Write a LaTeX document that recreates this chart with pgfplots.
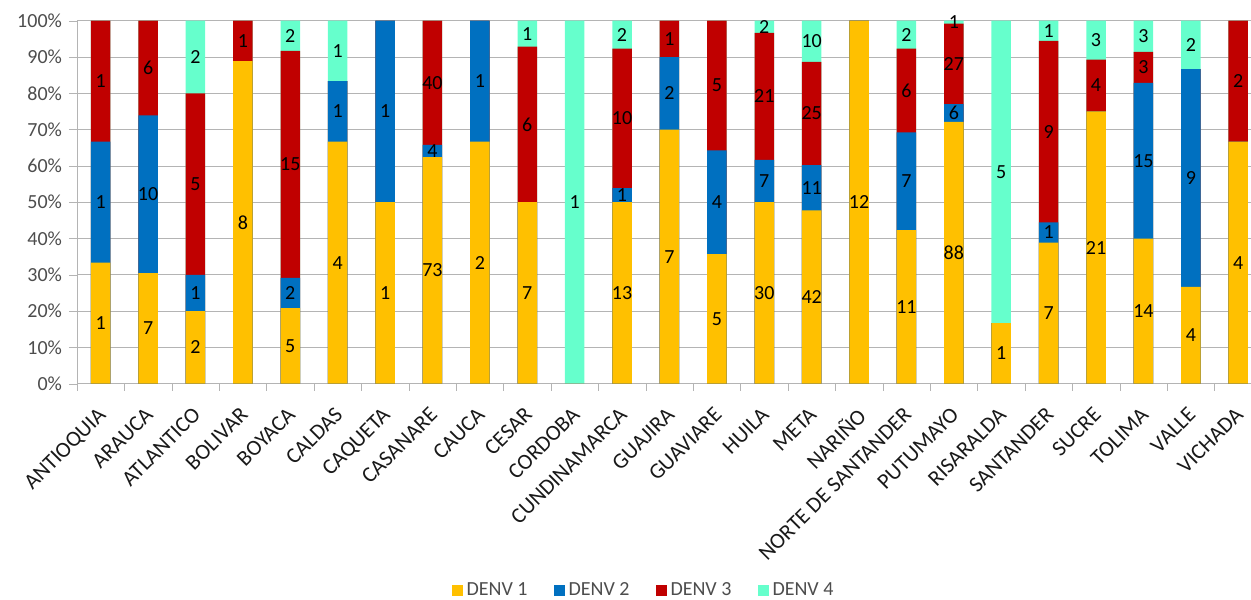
\documentclass[border=0pt]{standalone}
\usepackage{fontspec}
\setmainfont{Carlito}
\usepackage{pgfplots}
\usepackage{pgfplotstable}
\pgfplotsset{compat=1.18}

\definecolor{denvA}{HTML}{FFC000}
\definecolor{denvB}{HTML}{0070C0}
\definecolor{denvC}{HTML}{C00000}
\definecolor{denvD}{HTML}{66FFCC}
\definecolor{gridgray}{HTML}{B4B4B4}
\definecolor{txtgray}{HTML}{4D4D4D}

% casos por serotipo (DENV 1..4) en cada departamento
\pgfplotstableread{
x c1 c2 c3 c4
0 1 1 1 0
1 7 10 6 0
2 2 1 5 2
3 8 0 1 0
4 5 2 15 2
5 4 1 0 1
6 1 1 0 0
7 73 4 40 0
8 2 1 0 0
9 7 0 6 1
10 0 0 0 1
11 13 1 10 2
12 7 2 1 0
13 5 4 5 0
14 30 7 21 2
15 42 11 25 10
16 12 0 0 0
17 11 7 6 2
18 88 6 27 1
19 1 0 0 5
20 7 1 9 1
21 21 0 4 3
22 14 15 3 3
23 4 9 0 2
24 4 0 2 0
}\casos

\newcommand{\tot}{(\thisrow{c1}+\thisrow{c2}+\thisrow{c3}+\thisrow{c4})}

\pgfplotsset{
  barra/.style={ybar, bar width=9.75pt, bar shift=0pt, draw=none, fill=#1, forget plot},
  etiq/.style={draw=none, mark=none, forget plot, point meta=explicit,
    nodes near coords={\pgfmathfloatifflags{\pgfplotspointmeta}{0}{}{\pgfmathprintnumber{\pgfplotspointmeta}}},
    every node near coord/.append style={anchor=center, text=black, font=\normalsize, inner sep=0pt}},
}

\begin{document}
\begin{tikzpicture}
\useasboundingbox (-38.5pt,-107.85pt) rectangle (587pt,191.85pt);
\begin{axis}[
  at={(0pt,0pt)}, anchor=south west,
  scale only axis, width=587pt, height=181.5pt,
  xmin=-0.5, xmax=24.27, ymin=0, ymax=100,
  axis x line*=bottom, axis y line*=left,
  axis line style={gridgray, -},
  tick align=outside,
  xtick={0,...,24},
  xticklabels={ANTIOQUIA, ARAUCA, ATLANTICO, BOLIVAR, BOYACA, CALDAS, CAQUETA, CASANARE, CAUCA, CESAR, CORDOBA, CUNDINAMARCA, GUAJIRA, GUAVIARE, HUILA, META, NARIÑO, NORTE DE SANTANDER, PUTUMAYO, RISARALDA, SANTANDER, SUCRE, TOLIMA, VALLE, VICHADA},
  major x tick style={draw=none},
  minor xtick={-0.5,0.5,...,23.5},
  minor x tick style={gridgray},
  minor tick length=3.5pt,
  major tick length=4pt,
  ytick={0,10,...,100},
  y tick style={gridgray},
  ymajorgrids, grid style={gridgray},
  yticklabel={\pgfmathprintnumber{\tick}\%},
  /pgf/number format/assume math mode=true,
  yticklabel style={text=txtgray, font=\normalsize},
  xticklabel style={xshift=-2pt, yshift=-7pt, rotate=45, anchor=north east, text=black!90, font=\fontsize{11}{13}\selectfont, inner sep=0pt},
  legend columns=4,
  legend style={at={(0.4834,-0.5694)}, anchor=center, draw=none, font=\normalsize, text=txtgray,
    /tikz/every even column/.append style={column sep=11pt}},
  legend image code/.code={\fill[#1] (0pt,-2.75pt) rectangle (5.5pt,2.75pt);},
]
\addlegendimage{fill=denvA, draw=none}\addlegendentry{DENV 1}
\addlegendimage{fill=denvB, draw=none}\addlegendentry{DENV 2}
\addlegendimage{fill=denvC, draw=none}\addlegendentry{DENV 3}
\addlegendimage{fill=denvD, draw=none}\addlegendentry{DENV 4}

% barras apiladas al 100%, dibujadas de arriba hacia abajo
\addplot[barra=denvD] table[x=x, y expr={100*(\thisrow{c1}+\thisrow{c2}+\thisrow{c3}+\thisrow{c4})/\tot}] {\casos};
\addplot[barra=denvC] table[x=x, y expr={100*(\thisrow{c1}+\thisrow{c2}+\thisrow{c3})/\tot}] {\casos};
\addplot[barra=denvB] table[x=x, y expr={100*(\thisrow{c1}+\thisrow{c2})/\tot}] {\casos};
\addplot[barra=denvA] table[x=x, y expr={100*\thisrow{c1}/\tot}] {\casos};

% etiquetas con el numero de casos
\addplot[etiq] table[x=x, y expr={100*(0.5*\thisrow{c1})/\tot}, meta=c1] {\casos};
\addplot[etiq] table[x=x, y expr={100*(\thisrow{c1}+0.5*\thisrow{c2})/\tot}, meta=c2] {\casos};
\addplot[etiq] table[x=x, y expr={100*(\thisrow{c1}+\thisrow{c2}+0.5*\thisrow{c3})/\tot}, meta=c3] {\casos};
\addplot[etiq] table[x=x, y expr={100*(\thisrow{c1}+\thisrow{c2}+\thisrow{c3}+0.5*\thisrow{c4})/\tot}, meta=c4] {\casos};
\end{axis}
\end{tikzpicture}
\end{document}
